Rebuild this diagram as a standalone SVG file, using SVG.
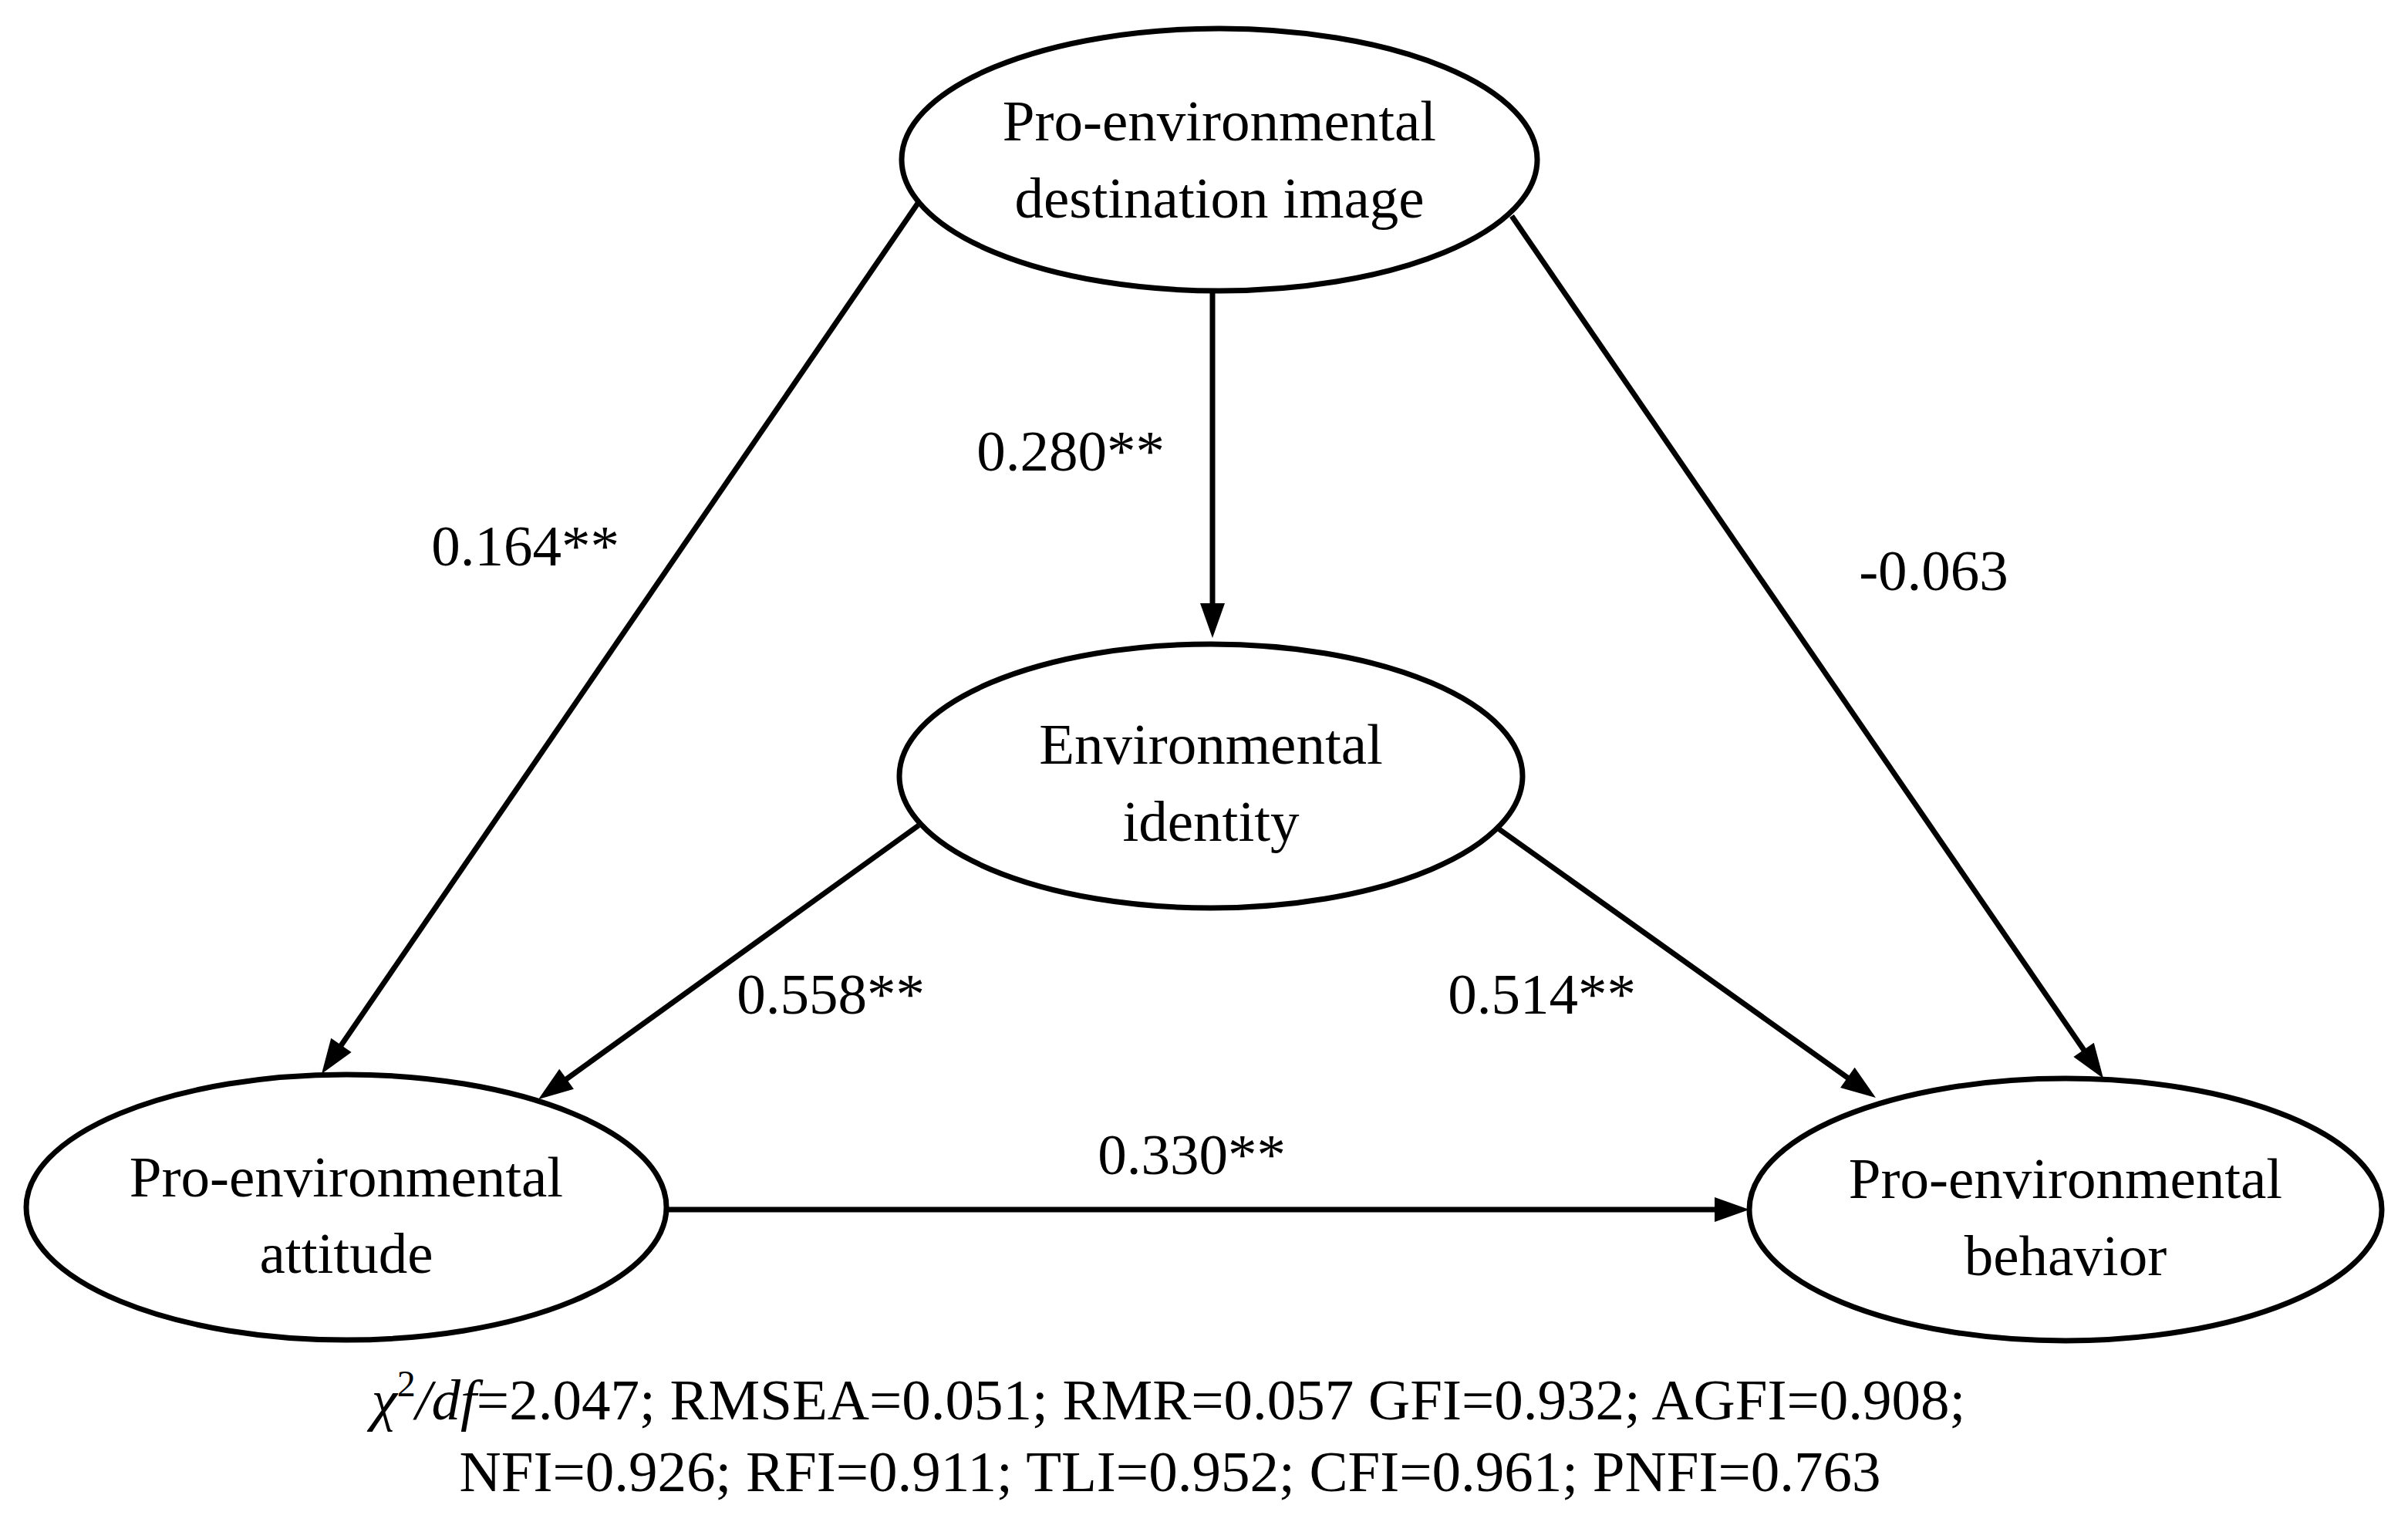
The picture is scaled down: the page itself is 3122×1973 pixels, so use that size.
<svg xmlns="http://www.w3.org/2000/svg" width="3122" height="1973" viewBox="0 0 3122 1973">
<style>
  .node { fill: #ffffff; stroke: #000000; stroke-width: 7; }
  .lbl { font-family: "Liberation Serif", "Times New Roman", serif; font-size: 75px; fill: #000000; text-anchor: middle; }
  .edge { stroke: #000000; stroke-width: 7; fill: none; marker-end: url(#arrow); }
</style>
<defs>
  <marker id="arrow" markerUnits="userSpaceOnUse" markerWidth="46" markerHeight="34" refX="5" refY="16" orient="auto" overflow="visible">
    <path d="M0,0 L45,16 L0,32 z" fill="#000000"/>
  </marker>
</defs>
<rect width="3122" height="1973" fill="#ffffff"/>

<g id="node-destination-image">
  <ellipse class="node" cx="1581" cy="207" rx="412" ry="170"/>
  <text class="lbl" x="1581" y="182">Pro-environmental</text>
  <text class="lbl" x="1581" y="282">destination image</text>
</g>
<g id="node-environmental-identity">
  <ellipse class="node" cx="1570" cy="1006" rx="404" ry="171"/>
  <text class="lbl" x="1570" y="990">Environmental</text>
  <text class="lbl" x="1570" y="1090">identity</text>
</g>
<g id="node-attitude">
  <ellipse class="node" cx="449" cy="1565" rx="415" ry="172"/>
  <text class="lbl" x="449" y="1551">Pro-environmental</text>
  <text class="lbl" x="449" y="1650">attitude</text>
</g>
<g id="node-behavior">
  <ellipse class="node" cx="2678" cy="1568" rx="410" ry="170"/>
  <text class="lbl" x="2678" y="1553">Pro-environmental</text>
  <text class="lbl" x="2678" y="1653">behavior</text>
</g>

<g id="connectors">
  <line class="edge" x1="1572" y1="377" x2="1572" y2="787"/>
  <line class="edge" x1="1191" y1="262" x2="439.6" y2="1359"/>
  <line class="edge" x1="1960" y1="280" x2="2704.4" y2="1365"/>
  <line class="edge" x1="1191" y1="1070" x2="730.5" y2="1401.6"/>
  <line class="edge" x1="1941" y1="1073" x2="2399.4" y2="1399.8"/>
  <line class="edge" x1="864" y1="1568" x2="2228" y2="1568"/>
  <text class="lbl" x="1388" y="610">0.280**</text>
  <text class="lbl" x="681" y="733">0.164**</text>
  <text class="lbl" x="2507" y="765">-0.063</text>
  <text class="lbl" x="1077" y="1314">0.558**</text>
  <text class="lbl" x="1999" y="1314">0.514**</text>
  <text class="lbl" x="1545" y="1522">0.330**</text>
</g>

<g id="fit-indices">
  <text class="lbl" x="1515" y="1840"><tspan font-style="italic">χ</tspan><tspan font-size="48" dy="-30">2</tspan><tspan font-style="italic" dy="30">/df</tspan>=2.047; RMSEA=0.051; RMR=0.057 GFI=0.932; AGFI=0.908;</text>
  <text class="lbl" x="1517" y="1933">NFI=0.926; RFI=0.911; TLI=0.952; CFI=0.961; PNFI=0.763</text>
</g>
</svg>
